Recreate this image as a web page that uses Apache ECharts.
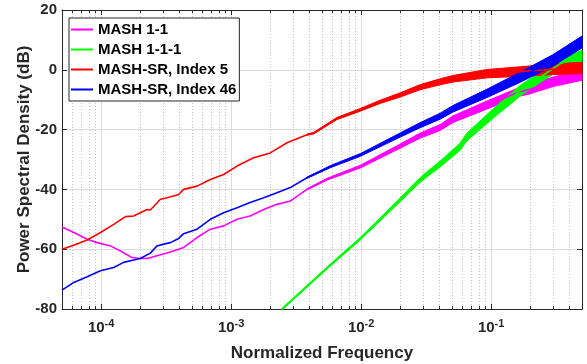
<!DOCTYPE html>
<html>
<head>
<meta charset="utf-8">
<script src="https://cdn.jsdelivr.net/npm/echarts@6/dist/echarts.min.js"></script>
<style>
  html, body { margin: 0; padding: 0; background: #fff; }
  #chart { width: 587px; height: 364px; }
</style>
</head>
<body>
<div id="chart"></div>
<script>
// Power spectral density of four MASH modulator variants (dB vs normalized frequency)

const seriesNames = ['MASH 1-1', 'MASH 1-1-1', 'MASH-SR, Index 5', 'MASH-SR, Index 46'];
const seriesColors = ['#ff00ff', '#00ff00', '#ff0000', '#0000ff'];

const yTicks = [-80, -60, -40, -20, 0, 20];
const xDecades = [1e-4, 1e-3, 1e-2, 1e-1];

// MASH 1-1
const mash11Freq = [5.0e-5, 6.16e-5, 7.81e-5, 9.32e-5, 1.18e-4, 1.41e-4, 1.73e-4, 2.0e-4, 2.26e-4, 2.69e-4,
  3.22e-4, 3.95e-4, 4.31e-4, 5.47e-4, 6.92e-4, 8.76e-4, 1.11e-3, 1.40e-3, 1.78e-3, 2.25e-3,
  2.85e-3, 3.83e-3, 5.46e-3, 9.84e-3, 2.0e-2, 2.85e-2, 4.06e-2, 5.10e-2, 9.27e-2, 0.167,
  0.199, 0.300, 0.50];
const mash11Db = [-52.6, -54.4, -56.7, -57.8, -58.9, -60.6, -62.8, -63.1, -63.1, -62.2,
  -61.3, -60.0, -59.4, -56.1, -53.3, -52.2, -50.0, -48.9, -46.7, -45.0,
  -43.9, -40.0, -36.6, -32.4, -25.5, -22.0, -19.3, -16.5, -11.8, -7.3,
  -6.5, -4.0, -1.8];
const mash11Spread = [0, 0, 0, 0, 0, 0, 0, 0, 0, 0,
  0, 0, 0, 0, 0, 0, 0, 0, 0, 0,
  0, 0.2, 0.3, 0.45, 0.7, 0.85, 1.0, 1.1, 1.35, 1.5,
  1.55, 1.6, 1.7];

// MASH 1-1-1
const mash111Freq = [2.47e-3, 5.79e-3, 9.29e-3, 1.04e-2, 1.88e-2, 2.85e-2, 3.40e-2, 4.06e-2, 5.78e-2, 6.50e-2,
  9.27e-2, 0.111, 0.148, 0.167, 0.238, 0.339, 0.50];
const mash111Db = [-80.0, -65.3, -57.5, -55.5, -44.6, -36.8, -34.1, -31.5, -25.7, -22.5,
  -16.5, -13.5, -9.0, -7.0, -2.5, 2.0, 4.6];
const mash111Spread = [0.3, 0.35, 0.45, 0.45, 0.6, 0.8, 0.9, 1.0, 1.2, 1.3,
  1.5, 1.6, 1.7, 1.75, 1.8, 1.9, 1.9];

// MASH-SR, Index 5
const sr5Freq = [5.0e-5, 6.16e-5, 7.81e-5, 9.88e-5, 1.25e-4, 1.54e-4, 1.78e-4, 2.0e-4, 2.26e-4, 2.39e-4,
  2.86e-4, 3.22e-4, 3.95e-4, 4.31e-4, 5.47e-4, 6.92e-4, 8.76e-4, 1.11e-3, 1.49e-3, 2.0e-3,
  2.69e-3, 3.83e-3, 4.31e-3, 6.52e-3, 9.84e-3, 1.40e-2, 2.0e-2, 2.85e-2, 4.06e-2, 5.10e-2,
  9.27e-2, 0.167, 0.300, 0.50];
const sr5Db = [-60.0, -58.7, -56.9, -54.4, -51.7, -49.1, -48.9, -47.8, -46.7, -46.9,
  -43.3, -42.8, -41.7, -40.0, -38.9, -36.7, -35.0, -32.2, -29.4, -27.8,
  -24.4, -21.7, -21.2, -16.3, -13.4, -10.7, -8.4, -5.8, -4.0, -3.0,
  -1.3, -0.6, 0.2, 0.6];
const sr5Spread = [0, 0, 0, 0, 0, 0, 0, 0, 0, 0,
  0, 0, 0, 0, 0, 0, 0, 0, 0, 0,
  0, 0.2, 0.25, 0.35, 0.45, 0.55, 0.7, 0.85, 1.0, 1.1,
  1.4, 1.6, 1.8, 1.9];

// MASH-SR, Index 46
const sr46Freq = [5.0e-5, 6.16e-5, 7.81e-5, 9.88e-5, 1.25e-4, 1.49e-4, 1.78e-4, 2.0e-4, 2.39e-4, 2.69e-4,
  3.03e-4, 3.41e-4, 3.95e-4, 4.31e-4, 5.47e-4, 6.92e-4, 8.76e-4, 1.11e-3, 1.40e-3, 1.78e-3,
  2.25e-3, 2.85e-3, 3.83e-3, 5.79e-3, 9.84e-3, 2.0e-2, 2.85e-2, 4.06e-2, 5.10e-2, 9.27e-2,
  0.167, 0.300, 0.50];
const sr46Db = [-73.7, -71.1, -69.2, -67.2, -66.1, -64.4, -63.6, -63.1, -61.3, -58.9,
  -58.3, -57.8, -56.4, -54.8, -53.3, -50.0, -47.8, -46.1, -44.4, -42.8,
  -41.1, -39.4, -36.1, -32.4, -28.5, -21.8, -18.5, -15.5, -13.0, -7.9,
  -2.5, 3.2, 9.3];
const sr46Spread = [0, 0, 0, 0, 0, 0, 0, 0, 0, 0,
  0, 0, 0, 0, 0, 0, 0, 0, 0, 0,
  0, 0, 0.2, 0.35, 0.45, 0.7, 0.85, 1.0, 1.1, 1.4,
  1.7, 1.9, 2.0];

const curves = [
  { freq: mash11Freq, db: mash11Db, spread: mash11Spread },
  { freq: mash111Freq, db: mash111Db, spread: mash111Spread },
  { freq: sr5Freq, db: sr5Db, spread: sr5Spread },
  { freq: sr46Freq, db: sr46Db, spread: sr46Spread }
];

const X_MIN = 5e-5, X_MAX = 0.5, Y_MIN = yTicks[0], Y_MAX = yTicks[yTicks.length - 1];
const AXIS_COLOR = '#262626';
const FONT = '"Liberation Sans", Arial, sans-serif';

// 2..9 subdivisions of each decade inside the axis range
const minorFreqs = [];
for (let d = -5; d <= -1; d++) {
  for (let k = 2; k <= 9; k++) {
    const f = k * Math.pow(10, d);
    if (f > X_MIN * 1.001 && f < X_MAX * 0.999) minorFreqs.push(f);
  }
}

function isDecade(v) {
  return xDecades.some(d => Math.abs(v / d - 1) < 1e-6);
}

// Wide noise band drawn as a filled polygon around the curve
function bandRenderer(curve, color) {
  return function (params, api) {
    const up = [], lo = [];
    for (let i = 0; i < curve.freq.length; i++) {
      if (curve.spread[i] > 0) {
        up.push(api.coord([curve.freq[i], curve.db[i] + curve.spread[i]]));
        lo.push(api.coord([curve.freq[i], curve.db[i] - curve.spread[i]]));
      }
    }
    if (up.length < 2) return null;
    return {
      type: 'polygon',
      shape: { points: up.concat(lo.reverse()) },
      style: { fill: color, stroke: color, lineWidth: 1, lineJoin: 'round' }
    };
  };
}

function minorGridRenderer(params, api) {
  const f = api.value(0);
  const x = api.coord([f, Y_MIN])[0];
  const yBot = api.coord([f, Y_MIN])[1];
  const yTop = api.coord([f, Y_MAX])[1];
  const xs = Math.round(x) + 0.5;
  return {
    type: 'group',
    children: [
      { type: 'line', shape: { x1: xs, y1: yTop, x2: xs, y2: yBot },
        style: { stroke: '#c4c4c4', lineWidth: 1, lineDash: [1, 2] } },
      { type: 'line', shape: { x1: xs, y1: yBot, x2: xs, y2: yBot - 3 },
        style: { stroke: AXIS_COLOR, lineWidth: 1 } },
      { type: 'line', shape: { x1: xs, y1: yTop, x2: xs, y2: yTop + 3 },
        style: { stroke: AXIS_COLOR, lineWidth: 1 } }
    ]
  };
}

const series = [{
  type: 'custom',
  name: 'minor-grid',
  silent: true,
  z: 1,
  renderItem: minorGridRenderer,
  data: minorFreqs.map(f => [f, Y_MIN])
}];

curves.forEach((c, i) => {
  series.push({
    type: 'line',
    name: seriesNames[i],
    data: c.freq.map((f, j) => [f, c.db[j]]),
    symbol: 'none',
    lineStyle: { color: seriesColors[i], width: 1.6 },
    itemStyle: { color: seriesColors[i] },
    emphasis: { disabled: true },
    z: 3
  });
  series.push({
    type: 'custom',
    name: seriesNames[i] + ' band',
    silent: true,
    z: 3,
    renderItem: bandRenderer(c, seriesColors[i]),
    data: [[c.freq[0], c.db[0]]]
  });
});

const axisLabelRich = {
  b: { fontFamily: FONT, fontWeight: 'bold', fontSize: 15, color: AXIS_COLOR, lineHeight: 17, verticalAlign: 'bottom' },
  s: { fontFamily: FONT, fontWeight: 'bold', fontSize: 11, color: AXIS_COLOR, lineHeight: 17, verticalAlign: 'top' }
};

const frameAxisLine = { show: true, onZero: false, lineStyle: { color: AXIS_COLOR, width: 1 } };
const innerTick = { show: true, inside: true, length: 5, lineStyle: { color: AXIS_COLOR } };

const option = {
  animation: false,
  backgroundColor: '#ffffff',
  grid: { left: 62, right: 5, top: 10, bottom: 55, containLabel: false, outerBoundsMode: 'none' },
  legend: {
    data: seriesNames,
    left: 69,
    top: 18,
    orient: 'vertical',
    backgroundColor: '#ffffff',
    borderColor: AXIS_COLOR,
    borderWidth: 1,
    borderRadius: 0,
    padding: [4, 3, 4, 2],
    itemGap: 5,
    itemWidth: 22,
    itemHeight: 14,
    icon: 'path://M0 0 L22 0 L22 2 L0 2 Z',
    textStyle: { fontFamily: FONT, fontWeight: 'bold', fontSize: 15, color: '#000000' },
    selectedMode: false
  },
  xAxis: [{
    type: 'log',
    logBase: 10,
    min: X_MIN,
    max: X_MAX,
    name: 'Normalized Frequency',
    nameLocation: 'middle',
    nameGap: 36,
    nameMoveOverlap: false,
    nameTextStyle: { fontFamily: FONT, fontWeight: 'bold', fontSize: 17, color: AXIS_COLOR },
    axisLine: frameAxisLine,
    axisTick: innerTick,
    axisLabel: {
      margin: 9,
      showMinLabel: false,
      showMaxLabel: false,
      formatter: function (v) {
        if (!isDecade(v)) return '';
        return '{b|10}{s|' + Math.round(Math.log10(v)) + '}';
      },
      rich: axisLabelRich
    },
    splitLine: { show: true, lineStyle: { color: '#dcdcdc', width: 1 } }
  }, {
    type: 'log',
    logBase: 10,
    min: X_MIN,
    max: X_MAX,
    position: 'top',
    axisLine: frameAxisLine,
    axisTick: innerTick,
    axisLabel: { show: false },
    splitLine: { show: false }
  }],
  yAxis: [{
    type: 'value',
    min: Y_MIN,
    max: Y_MAX,
    interval: 20,
    name: 'Power Spectral Density (dB)',
    nameLocation: 'middle',
    nameGap: 29,
    nameMoveOverlap: false,
    nameTextStyle: { fontFamily: FONT, fontWeight: 'bold', fontSize: 17, color: AXIS_COLOR },
    axisLine: frameAxisLine,
    axisTick: innerTick,
    axisLabel: { fontFamily: FONT, fontWeight: 'bold', fontSize: 15, color: AXIS_COLOR, margin: 5 },
    splitLine: { show: true, lineStyle: { color: '#dcdcdc', width: 1 } }
  }, {
    type: 'value',
    min: Y_MIN,
    max: Y_MAX,
    interval: 20,
    position: 'right',
    axisLine: frameAxisLine,
    axisTick: innerTick,
    axisLabel: { show: false },
    splitLine: { show: false }
  }],
  series: series
};

const chart = echarts.init(document.getElementById('chart'), null, { renderer: 'canvas' });
chart.setOption(option);
</script>
</body>
</html>
